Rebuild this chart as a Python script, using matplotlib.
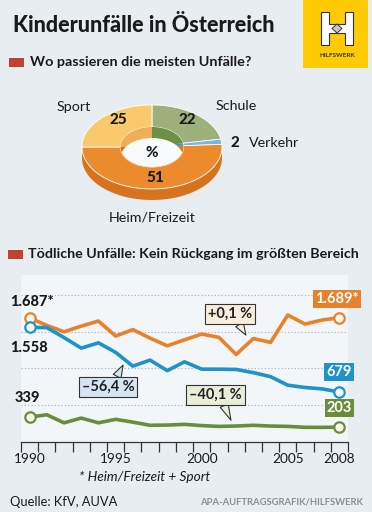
import numpy as np
import matplotlib.pyplot as plt
from matplotlib.patches import Polygon, Ellipse, Rectangle

plt.rcParams['font.family'] = ['Lato', 'DejaVu Sans']

# --- data ---
pie_labels = ["Schule", "Verkehr", "Heim/Freizeit", "Sport"]
pie_values = [22, 2, 51, 25]

years = list(range(1990, 2009))
heim_sport = [1687, 1585, 1498, 1575, 1644, 1440, 1528, 1412, 1307, 1389,
              1467, 1422, 1190, 1406, 1354, 1726, 1603, 1658, 1689]
verkehr = [1558, 1555, 1420, 1276, 1348, 1218, 1031, 1113, 970, 1090,
           990, 990, 986, 943, 888, 772, 741, 722, 679]
schule = [339, 370, 261, 325, 261, 308, 270, 227, 230, 240,
          223, 212, 217, 227, 217, 212, 200, 199, 203]
year_labels = [1990, 1995, 2000, 2005, 2008]

BG = '#E8EDF2'
PANEL = '#F3F6F9'
RED = '#C2432C'
ORANGE = '#E8822A'
BLUE = '#1F92C9'
GREEN = '#6A8D3D'
DARK = '#1A1A1A'

fig = plt.figure(figsize=(3.72, 5.12), dpi=100, facecolor=BG)

# line chart
ax = fig.add_axes([21 / 372, (512 - 442) / 512, 327 / 372, 167 / 512], zorder=1)
ax.set_facecolor(PANEL)
for vals, col in [(heim_sport, ORANGE), (verkehr, BLUE), (schule, GREEN)]:
    ax.plot(years, vals, color=col, lw=2.6, solid_joinstyle='round', zorder=3)
    ax.plot([years[0], years[-1]], [vals[0], vals[-1]], 'o', ms=7.5,
            mfc='#F8F6EE', mec=col, mew=1.6, zorder=4)

ax.set_xlim(1989.5, 2008.5)
ax.set_ylim(0, 2270)
ax.set_yticks([500, 1000, 1500, 2000])
ax.yaxis.grid(True, ls=(0, (1, 2)), color='#9DB0C0', lw=0.8)
ax.tick_params(axis='y', length=0, labelleft=False)
ax.set_xticks(np.arange(1989.5, 2009, 1))
ax.set_xticklabels([])
ax.set_xticks(year_labels, minor=True)
ax.set_xticklabels([str(y) for y in year_labels], minor=True, fontsize=9.8)
ax.tick_params(axis='x', which='major', length=7, width=0.9, color='#333333')
ax.tick_params(axis='x', which='minor', length=0, pad=8, colors=DARK)
for s in ['top', 'left', 'right']:
    ax.spines[s].set_visible(False)
ax.spines['bottom'].set_color('#333333')
ax.spines['bottom'].set_linewidth(0.9)

callouts = [
    ("+0,1 %", (2002.57, 1453), (2001.67, 1738), '#F8EEDB', (0.6, 0.3)),
    ("\u201356,4 %", (1995.43, 1045), (1994.55, 752), '#D5E5F1', (0.6, 0.7)),
    ("\u201340,1 %", (2001.7, 296), (2000.8, 636), '#EAEED8', (0.6, 0.3)),
]
for txt, tip, pos, fc, rp in callouts:
    ax.annotate(txt, xy=tip, xytext=pos, ha='center', va='center',
                fontsize=10.5, fontweight='bold', color='#222222', zorder=6,
                bbox=dict(boxstyle='square,pad=0.2', fc=fc, ec='#333333', lw=0.8),
                arrowprops=dict(arrowstyle='wedge,tail_width=0.6', fc=fc,
                                ec='#333333', lw=0.8, relpos=rp,
                                shrinkA=0, shrinkB=0))

# overlay in pixel coordinates
ov = fig.add_axes([0, 0, 1, 1], zorder=2)
ov.set_xlim(0, 372)
ov.set_ylim(512, 0)
ov.axis('off')

ov.text(13, 25, "Kinderunfälle in Österreich", fontsize=15.5, fontweight='black',
        va='center', color=DARK)
ov.add_patch(Rectangle((9, 58), 15, 9, fc=RED, ec='none'))
ov.text(30, 62.5, "Wo passieren die meisten Unfälle?", fontsize=10.4,
        fontweight='bold', va='center', color=DARK)
ov.add_patch(Rectangle((8, 250), 15, 9, fc=RED, ec='none'))
ov.text(28, 254.5, "Tödliche Unfälle: Kein Rückgang im größten Bereich",
        fontsize=10.3, fontweight='bold', va='center', color=DARK)

# logo
ov.add_patch(Rectangle((303, 0), 65, 68, fc='#FFCB05', ec='none'))
h = [(321, 12), (329, 12), (329, 24), (345, 24), (345, 12), (353, 12), (353, 45),
     (345, 45), (345, 33), (329, 33), (329, 45), (321, 45)]
ov.add_patch(Polygon(h, closed=True, fc='white', ec='#333333', lw=0.8))
ov.add_patch(Polygon([(337, 24), (342, 28.5), (337, 33), (332, 28.5)], closed=True,
                     fc='#C8C8C8', ec='#333333', lw=0.7))
ov.text(337, 55.5, "HILFSWERK", fontsize=4.6, fontweight='bold', ha='center',
        va='center', color='#333333')


# donut
def arc(t1, t2, a, b, cx, cy, n=80):
    th = np.radians(np.linspace(t1, t2, n))
    return np.column_stack([cx + a * np.cos(th), cy - b * np.sin(th)])


cx, cy, ao, bo, ai, bi, depth = 152, 147, 70, 42, 31.5, 20, 11
top_cols = ['#9DAF7B', '#7DB6DD', '#EC8B2E', '#FAC96B']
wall_cols = ['#6B9244', '#4F93C2', '#D9741F', '#F0AE55']
bounds = 90 - np.concatenate([[0], np.cumsum(pie_values)]) * 3.6

side = np.vstack([arc(-180, 0, ao, bo, cx, cy), arc(0, -180, ao, bo, cx, cy + depth)])
ov.add_patch(Polygon(side, closed=True, fc='#D6731F', ec='none', zorder=1))
for i, col in enumerate(top_cols):
    t1, t2 = bounds[i], bounds[i + 1]
    pts = np.vstack([arc(t1, t2, ao, bo, cx, cy), arc(t2, t1, ai, bi, cx, cy)])
    ov.add_patch(Polygon(pts, closed=True, fc=col, ec='white', lw=0.6, zorder=2))
    wedge = np.vstack([[cx, cy], arc(t1, t2, ai, bi, cx, cy)])
    ov.add_patch(Polygon(wedge, closed=True, fc=wall_cols[i], ec='none', zorder=3))
hole = Ellipse((cx, cy), 2 * ai, 2 * bi, transform=ov.transData)
floor = Ellipse((cx, cy + depth), 2 * ai, 2 * bi, fc='#F8FAFC', ec='none', zorder=4)
ov.add_patch(floor)
floor.set_clip_path(hole)

ov.text(74, 107, "Sport", fontsize=10.3, ha='center', va='center', color=DARK)
ov.text(236, 106, "Schule", fontsize=10.3, ha='center', va='center', color=DARK)
ov.text(152.5, 217, "Heim/Freizeit", fontsize=10.3, ha='center', va='center', color=DARK)
ov.text(249, 143, "Verkehr", fontsize=10.3, ha='left', va='center', color=DARK)
for x, y, t in [(118, 120, "25"), (187, 120, "22"), (235, 143, "2"),
                (152, 153, "%"), (155, 178, "51")]:
    ov.text(x, y, t, fontsize=11, fontweight='black', ha='center', va='center',
            color=DARK, zorder=5)

# value labels
ov.text(10, 302, "1.687*", fontsize=10.5, fontweight='black', va='center', color=DARK)
ov.text(10, 348, "1.558", fontsize=10.5, fontweight='black', va='center', color=DARK)
ov.text(15, 398, "339", fontsize=10.5, fontweight='black', va='center', color=DARK)
for x, y, t, col in [(337, 299, "1.689*", ORANGE), (339, 372, "679", BLUE),
                     (339.5, 408, "203", GREEN)]:
    ov.text(x, y, t, fontsize=10.5, fontweight='bold', ha='center', va='center',
            color='white', bbox=dict(boxstyle='square,pad=0.15', fc=col, ec='none'))

ov.text(79, 477, "* Heim/Freizeit + Sport", fontsize=9.8, style='italic',
        va='center', color=DARK)
ov.text(10, 502, "Quelle: KfV, AUVA", fontsize=9.3, va='center', color=DARK)
ov.text(363, 502, "APA-AUFTRAGSGRAFIK/HILFSWERK", fontsize=6.8, fontweight='bold',
        ha='right', va='center', color='#8A8F95')

fig.savefig('out.png', dpi=100, facecolor=BG)
